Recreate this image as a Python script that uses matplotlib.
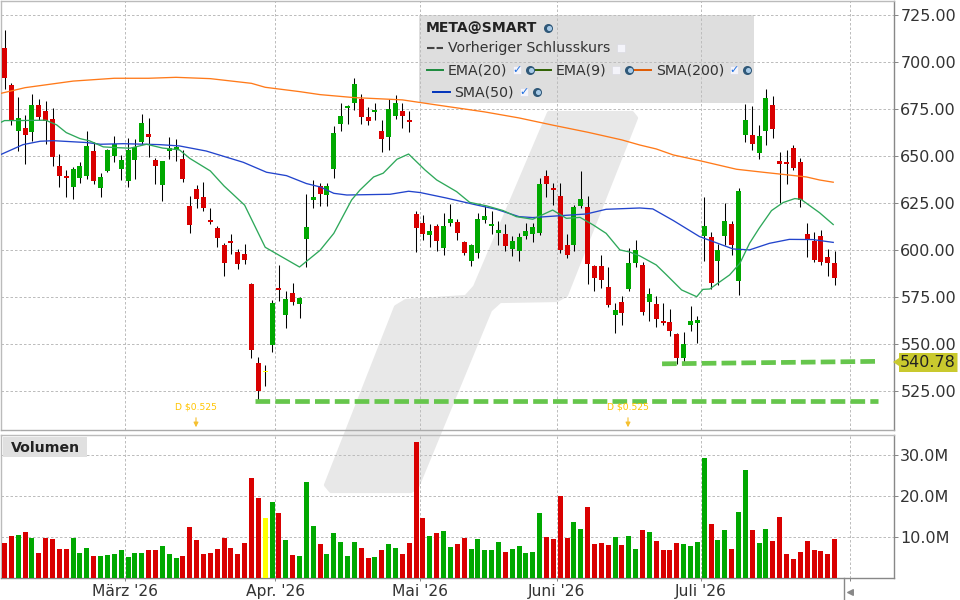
# load packages
import matplotlib
matplotlib.use("Agg")
import matplotlib.pyplot as plt
from matplotlib.patches import Polygon, Rectangle

# candles, one entry per trading day (r = down, g = up, y = doji)
candle_color = list(
    "rrgrgrrrrr"
    "gggrgggggg"
    "grrgggrrrr"
    "rrrrrrrryg"
    "rgrgggrggg"
    "ggrrgrggrr"
    "rrgrggrrgg"
    "gggrgggggr"
    "rrrggrrrrg"
    "rggrgrrrrg"
    "gggrggrggr"
    "ggrrrrrrrr"
    "rr"
)
high = [717.2, 688.8, 681.6, 672, 683.2, 680.5, 679.4, 675.7, 651.2, 642.7,
        644.3, 647, 663.5, 657.6, 641.1, 654, 660.8, 650.7, 659.8, 659.2,
        672.5, 670.4, 649.1, 647.5, 660.3, 659.2, 653.4, 628.9, 634.8, 636.4,
        622.7, 613.1, 604.1, 608.9, 600.7, 603.5, 582.8, 543.4, 539.2, 573.8,
        592.4, 578.5, 582.8, 575.3, 630, 637.4, 636, 636, 666.1, 678.4,
        677.3, 691.7, 683.2, 676.2, 678.4, 669.3, 680.5, 682.6, 678.4, 674.1,
        620.9, 618.8, 614, 614, 619.9, 624.6, 616.7, 605, 603.4, 619.9,
        623.6, 620.9, 615.6, 614, 607.6, 609.2, 614.5, 614.5, 638.5, 642.7,
        635.8, 635.8, 608.7, 624.1, 642.2, 628.9, 592, 597.5, 591.1, 572,
        575.7, 601.2, 605.5, 593.8, 580, 575.7, 572, 568.8, 556, 556.6,
        570.4, 565.1, 628.4, 609.7, 603.4, 625.2, 615.6, 633.2, 677.8, 676.8,
        666.7, 685.8, 682.1, 652.3, 653.4, 656, 649.1, 614.5, 609.7, 610.8,
        600.7, 599.6]
body_top = [707.6, 688, 670.4, 665.1, 677.3, 677.3, 674.1, 669.9, 644.9, 639.5,
            643.3, 644.9, 655.5, 652.8, 639, 653.4, 656.6, 648, 653.4, 655,
            667.7, 661.9, 648, 647.5, 654.4, 655, 648.6, 623.6, 632.6, 628.4,
            616.3, 612.1, 603, 605.1, 599.3, 598.2, 582.3, 540.2, 536, 572.2,
            580.1, 574.3, 577.5, 574.8, 612.6, 628.4, 634.2, 634.2, 662.4, 671.5,
            676.8, 688.5, 680.5, 670.9, 674.6, 663.5, 675.2, 678.4, 674.1, 669.3,
            619.3, 614.5, 610.3, 612.9, 612.9, 616.7, 615.1, 604.4, 602.8, 616.7,
            618.3, 614, 610.8, 608.7, 605, 607.1, 610.3, 612.4, 635.3, 639.5,
            633.2, 628.9, 602.8, 623, 627.3, 623, 591.7, 591.7, 580.5, 568.3,
            572.5, 593.2, 600.2, 592.2, 576.8, 571.4, 562.4, 561.9, 555.5, 550.2,
            562.4, 562.9, 613, 607.1, 600.2, 615.6, 614, 631.6, 669.3, 661.3,
            660.8, 681, 677.3, 647.5, 647, 654.4, 647, 608.7, 605, 607.6,
            596.5, 593.3]
body_bottom = [691.7, 669.3, 663.5, 661.3, 663, 670.9, 668.8, 649.6, 639.5, 638.5,
               633.7, 638.5, 639.5, 636.9, 633.2, 642, 650.2, 643.3, 636.9, 648,
               657.6, 660.3, 644.9, 634.8, 652.8, 653.4, 638, 613.7, 627.3, 622.7,
               615.2, 606.7, 593.4, 604.1, 592.9, 595, 547.2, 525.4, 535.1, 549.8,
               579.1, 565.8, 572.7, 571.6, 606.2, 626.8, 630, 629.6, 643.3, 667.2,
               675.7, 678.4, 670.9, 668.8, 673.6, 659.2, 660.3, 671.5, 671.5, 668.3,
               611.9, 608.7, 608.2, 605, 601.2, 614.5, 609.2, 598.6, 594.3, 598.6,
               616.1, 612.9, 609.2, 602.3, 600.7, 599.6, 607.6, 608.7, 609.2, 635.3,
               632.1, 600.2, 597.5, 602.8, 623.6, 592.7, 585.3, 584.2, 570.9, 565.6,
               566.7, 579.4, 593.2, 567.2, 572.5, 563.5, 561.4, 557.1, 542.7, 542.7,
               560.3, 561.4, 607.6, 582.6, 594.3, 607.6, 602.8, 583.7, 661.3, 656.6,
               651.8, 663.5, 664.5, 645.9, 645.9, 643.8, 626.8, 606, 594.9, 593.8,
               593.3, 585.3]
low = [685.8, 666.7, 652.8, 646, 658, 669.3, 656.6, 644.9, 633.7, 628.4,
       627.3, 635.8, 638, 635.3, 628.4, 641.7, 647, 637.4, 633.7, 638,
       656.6, 649.6, 635.3, 626.2, 648.6, 647.5, 636.4, 609.4, 622.7, 621.1,
       614.2, 602, 586.5, 598.2, 590.2, 592.9, 542.9, 520.6, 528, 546.1,
       573.2, 558.9, 571.1, 564.2, 591.3, 622.7, 623.6, 623.6, 638.5, 663.5,
       667.2, 674.6, 667.2, 666.7, 669.3, 652.3, 653.4, 669.9, 665.1, 663,
       599.1, 605.5, 601.8, 599.6, 597.5, 612.9, 605.5, 597.5, 591.7, 595.9,
       614.5, 608.7, 602.8, 599.6, 597, 594.3, 606, 604.4, 608.2, 628.4,
       624.1, 598.6, 595.9, 599.6, 622.3, 582.1, 578.4, 580, 569.9, 556,
       560.3, 578.4, 591.1, 565.6, 562.4, 559.2, 560.3, 554.4, 539.5, 540.6,
       557.1, 550.7, 594.3, 579.4, 581.6, 602.8, 597.5, 576.2, 657.6, 653.4,
       648.6, 656, 659.7, 625.2, 635.3, 642.7, 623, 596.5, 593.8, 592.2,
       586.4, 581.6]

# volume in millions
volume = [8.6, 10.3, 10.6, 11.3, 9.8, 6.2, 9.8, 9.6, 7.2, 7.2,
          9.8, 6.2, 7.4, 5.4, 5.4, 5.7, 5.9, 6.9, 5.2, 6.2,
          6.2, 6.9, 6.9, 7.9, 5.9, 5.0, 5.4, 12.5, 9.3, 5.9,
          6.2, 7.2, 9.8, 7.4, 5.9, 8.6, 24.5, 19.6, 14.7, 18.6,
          15.9, 9.3, 5.7, 5.4, 23.5, 12.8, 8.4, 5.9, 11.1, 8.9,
          5.4, 8.9, 7.4, 5.0, 5.2, 6.9, 8.4, 7.4, 5.9, 8.6,
          33.3, 14.7, 10.3, 11.1, 11.5, 7.6, 8.4, 9.8, 7.2, 9.6,
          6.9, 6.9, 8.9, 6.4, 7.2, 7.9, 6.2, 6.4, 15.9, 10.1,
          9.6, 20.1, 9.8, 13.7, 12.0, 17.4, 8.4, 8.6, 8.1, 10.1,
          8.1, 10.3, 7.2, 11.8, 11.3, 9.1, 6.9, 6.9, 8.6, 8.4,
          7.9, 8.9, 29.3, 13.3, 9.3, 11.8, 7.2, 16.2, 26.4, 11.8,
          8.6, 12.0, 9.1, 15.0, 5.9, 4.7, 6.4, 9.1, 6.9, 6.7,
          5.9, 9.6]

# moving averages, read at the day index given in the *_x list
ema20_x = [-0.5, 0, 2, 6, 7.6, 9, 11, 12.4, 14.4, 16.3, 18.3, 20.7, 23, 25.5, 27, 30, 32, 33.3, 35, 38, 43, 46,
           48, 50.6, 51.8, 53.8, 55.2, 57.2, 58.9, 61.3, 63, 65.9, 67.8, 70.3, 72.7, 74.6, 77, 79.9, 81.9, 83.9,
           85.8, 87.7, 89.7, 91.1, 92.6, 95, 96.5, 98.7, 100.9, 101.8, 102.8, 105.7, 107.2, 108.6, 110, 111.8,
           113.5, 115.2, 116.1, 118.8, 120.8]
ema20_y = [668.1, 669, 669, 669.2, 666.7, 662.6, 659.4, 658.2, 655, 654.6, 654.3, 656.4, 654.4, 653.4, 648.9, 642.2,
           634.2, 629.8, 624, 601.6, 591.1, 600,
           609, 626.8, 632, 639, 641, 648.4, 651.2, 642.7, 637.4, 631.2, 625.5, 623.6, 621.1, 617.9, 616.5, 621.4,
           617, 617.5, 613.5, 609, 600.2, 599.1, 597, 592.2, 586.9, 578.9, 575.3, 579.2, 579.4, 586.9, 593.1,
           603.7, 611.7, 621.1, 625.4, 627.5, 627.1, 620, 613.7]
sma50_x = [-0.5, 2.7, 5.2, 7.1, 12, 14, 17.3, 22.6, 25.5, 29.4, 34.8, 38.2, 41.1, 44, 46, 48, 49.9, 56.2, 58.9, 60.6,
           64.4, 68.8, 71.7, 75, 77, 81, 84.8, 87.7, 92.6, 94.5, 97.5, 101.3, 106.2, 108.6, 111.5, 114.4, 117.8, 120.8]
sma50_y = [651, 656.2, 658, 658.3, 657.3, 656.4, 656.7, 656.2, 655.5, 652.8, 646.8, 641.5, 639.7, 635.5, 633.7, 630.3,
           629.4, 629.8, 631.4, 630.7, 627.8, 624.1, 621.8, 617.9, 617.4, 618.4, 619.3, 621.8, 622.5, 622, 615.8,
           607.3, 600.7, 600.2, 603.7, 605.8, 605.7, 604.2]
sma200_x = [-0.5, 3, 6, 10, 14, 16, 21, 25, 30, 36, 38, 43, 46, 51, 54, 58, 63, 70, 75, 80, 85, 90, 92.6, 95, 97.5,
            101.3, 106.7, 110.6, 114.4, 116.9, 118.8, 120.8]
sma200_y = [683.5, 686.5, 688, 690, 691, 691.5, 691.5, 692, 691.3, 688.8, 686.7, 684.4, 682.8, 681.2, 680.7, 680,
            677.3, 673.6, 670.4, 666.5, 662.8, 658.7, 656, 653.9, 650.7, 647.7, 643.1, 641.5, 640, 639, 637.4, 636.2]

# dashed support levels
support_low_x = [36.5, 127.35]
support_low_y = [519.6, 519.6]
support_high_x = [95.85, 126.9]
support_high_y = [539.6, 540.9]

price_ticks = [525, 550, 575, 600, 625, 650, 675, 700, 725]
volume_ticks = [10, 20, 30]
month_pos = [17.5, 39.5, 60.5, 80.5, 101.5, 123.3]
month_labels = ["März '26", "Apr. '26", "Mai '26", "Juni '26", "Juli '26", ""]
last_price = "540.78"
dividend_label = "D $0.525"
dividend_px = [196, 628]

colors = {"r": "#d90000", "g": "#00a800", "y": "#ffff00"}
grid_color = "#bdbdbd"
text_color = "#333333"
logo_color = "#e8e8e8"
logo_px = [(549, 113), (632, 113), (636, 118), (566, 295), (557, 300), (500, 301), (490, 310), (417, 487), (411, 491),
           (331, 491), (326, 485), (396, 307), (406, 301), (466, 297), (475, 287)]
X_LIM = (-0.47, 129.66)


def style_axes(ax):
    ax.set_facecolor("none")
    ax.set_xlim(*X_LIM)
    ax.yaxis.tick_right()
    ax.grid(True, color=grid_color, lw=0.72, linestyle=(0, (2.5, 2)))
    ax.set_axisbelow(True)
    ax.set_xticks(month_pos)
    ax.tick_params(axis="y", length=3, width=0.72, color="#888888", pad=1.5, labelsize=11.5, labelcolor=text_color)
    for side, color in [("top", "#bbbbbb"), ("left", "#bbbbbb"), ("right", "#888888"), ("bottom", "#aaaaaa")]:
        ax.spines[side].set_color(color)
        ax.spines[side].set_linewidth(1)


def plot_background(fig):
    bg = fig.add_axes([0, 0, 1, 1], zorder=-1)
    bg.set_xlim(0, 960)
    bg.set_ylim(600, 0)
    bg.axis("off")
    bg.add_patch(Polygon(logo_px, closed=True, facecolor=logo_color, edgecolor=logo_color, lw=3, joinstyle="round"))
    bg.add_patch(Rectangle((418.5, 15), 335.5, 88, facecolor="#dedede", edgecolor="none"))


def plot_price(fig):
    ax = fig.add_axes([1.3 / 960, 170 / 600, 892.7 / 960, 429 / 600], zorder=1)
    style_axes(ax)
    ax.set_ylim(504.4, 732.6)
    ax.set_yticks(price_ticks)
    ax.set_yticklabels([f"{p:.2f}" for p in price_ticks])
    ax.tick_params(axis="x", length=0, labelbottom=False)

    days = range(len(high))
    ax.vlines(days, low, high, color="black", lw=0.75, zorder=3)
    heights = [t - b for t, b in zip(body_top, body_bottom)]
    ax.bar(days, heights, bottom=body_bottom, width=0.73, color=[colors[c] for c in candle_color], zorder=4)

    ax.plot(sma200_x, sma200_y, color="#ff7a1a", lw=0.95, zorder=5)
    ax.plot(sma50_x, sma50_y, color="#2244cc", lw=0.95, zorder=5)
    ax.plot(ema20_x, ema20_y, color="#2ea85a", lw=0.95, zorder=5)

    for xs, ys in [(support_low_x, support_low_y), (support_high_x, support_high_y)]:
        ax.plot(xs, ys, color="#66c64c", lw=3.4, linestyle=(0, (3.1, 1.1)), dash_capstyle="butt", zorder=6)


def plot_volume(fig):
    ax = fig.add_axes([1.3 / 960, 21.7 / 600, 892.7 / 960, 143.3 / 600], zorder=1)
    style_axes(ax)
    ax.set_ylim(0, 34.95)
    ax.set_yticks(volume_ticks)
    ax.set_yticklabels([f"{v:.1f}M" for v in volume_ticks])
    ax.set_xticklabels(month_labels)
    ax.tick_params(axis="x", length=2, width=0.72, color="#888888", pad=2, labelsize=11.2, labelcolor=text_color)
    ax.spines["bottom"].set_color("#888888")
    ax.bar(range(len(volume)), volume, width=0.73, color=[colors[c] for c in candle_color], zorder=3)


def check_box(ov, x, y, ticked):
    ov.scatter([x], [y], marker="s", s=28, color="#f4f4fa", edgecolors="#d8d8e0", linewidths=0.4, zorder=5)
    if ticked:
        ov.text(x, y, "\u2713", color="#1f6fe0", fontsize=8, fontweight="bold", ha="center", va="center", zorder=6)


def globe(ov, x, y):
    ov.scatter([x], [y], marker="o", s=30, color="#2f5878", zorder=5)
    ov.scatter([x + 0.5], [y], marker="o", s=7, color="#a8cbe8", zorder=6)


def plot_overlay(fig):
    ov = fig.add_axes([0, 0, 1, 1], zorder=2)
    ov.set_facecolor("none")
    ov.set_xlim(0, 960)
    ov.set_ylim(600, 0)
    ov.axis("off")

    # legend
    ov.text(426, 28, "META@SMART", fontsize=10.1, fontweight="bold", color="#222222", va="center")
    globe(ov, 548, 28)
    ov.plot([427, 443], [47.5, 47.5], color="#444444", lw=1.5, linestyle=(0, (3.6, 1)))
    ov.text(448, 48, "Vorheriger Schlusskurs", fontsize=10.2, color=text_color, va="center")
    check_box(ov, 621, 48, False)
    rows = [(427, 443, 448, 70, "#1a8a3c", "EMA(20)", 517, 530, True),
            (535, 551, 556, 70, "#2e6000", "EMA(9)", 616, 629, False),
            (634, 651, 656, 70, "#e05a00", "SMA(200)", 734, 747, True),
            (433, 450, 454, 92, "#0033bb", "SMA(50)", 524, 537, True)]
    for x0, x1, tx, y, color, name, box_x, globe_x, ticked in rows:
        ov.plot([x0, x1], [y - 0.5, y - 0.5], color=color, lw=1.4)
        ov.text(tx, y, name, fontsize=10.2, color=text_color, va="center")
        check_box(ov, box_x, y, ticked)
        globe(ov, globe_x, y)

    # last price flag
    ov.add_patch(Polygon([(893, 362), (899, 358), (899, 353), (957.5, 353), (957.5, 372), (899, 372), (899, 366)],
                         closed=True, facecolor="#c9c92e", edgecolor="none"))
    ov.text(900, 362.5, last_price, fontsize=11.5, color="#222222", va="center")

    # dividends
    for x in dividend_px:
        ov.text(x, 407, dividend_label, fontsize=6.6, color="#ffc400", ha="center", va="center")
        ov.annotate("", xy=(x, 430), xytext=(x, 415),
                    arrowprops=dict(arrowstyle="-|>", color="#f5c030", lw=0.8, mutation_scale=7))

    # volume tag
    ov.add_patch(Rectangle((2.7, 437), 84.3, 19.7, facecolor="#e0e0e0", edgecolor="none"))
    ov.text(11, 447.5, "Volumen", fontsize=10.2, fontweight="bold", color="#222222", va="center")

    # scroll marker under the axis
    ov.plot([844.3, 844.3], [578, 600], color="#888888", lw=1)
    ov.scatter([850], [591.7], marker="<", s=16, color="#888888")


def main():
    fig = plt.figure(figsize=(9.6, 6), dpi=100, facecolor="white")
    plot_background(fig)
    plot_price(fig)
    plot_volume(fig)
    plot_overlay(fig)
    fig.savefig("out.png", dpi=100)
    plt.close(fig)


if __name__ == "__main__":
    main()
